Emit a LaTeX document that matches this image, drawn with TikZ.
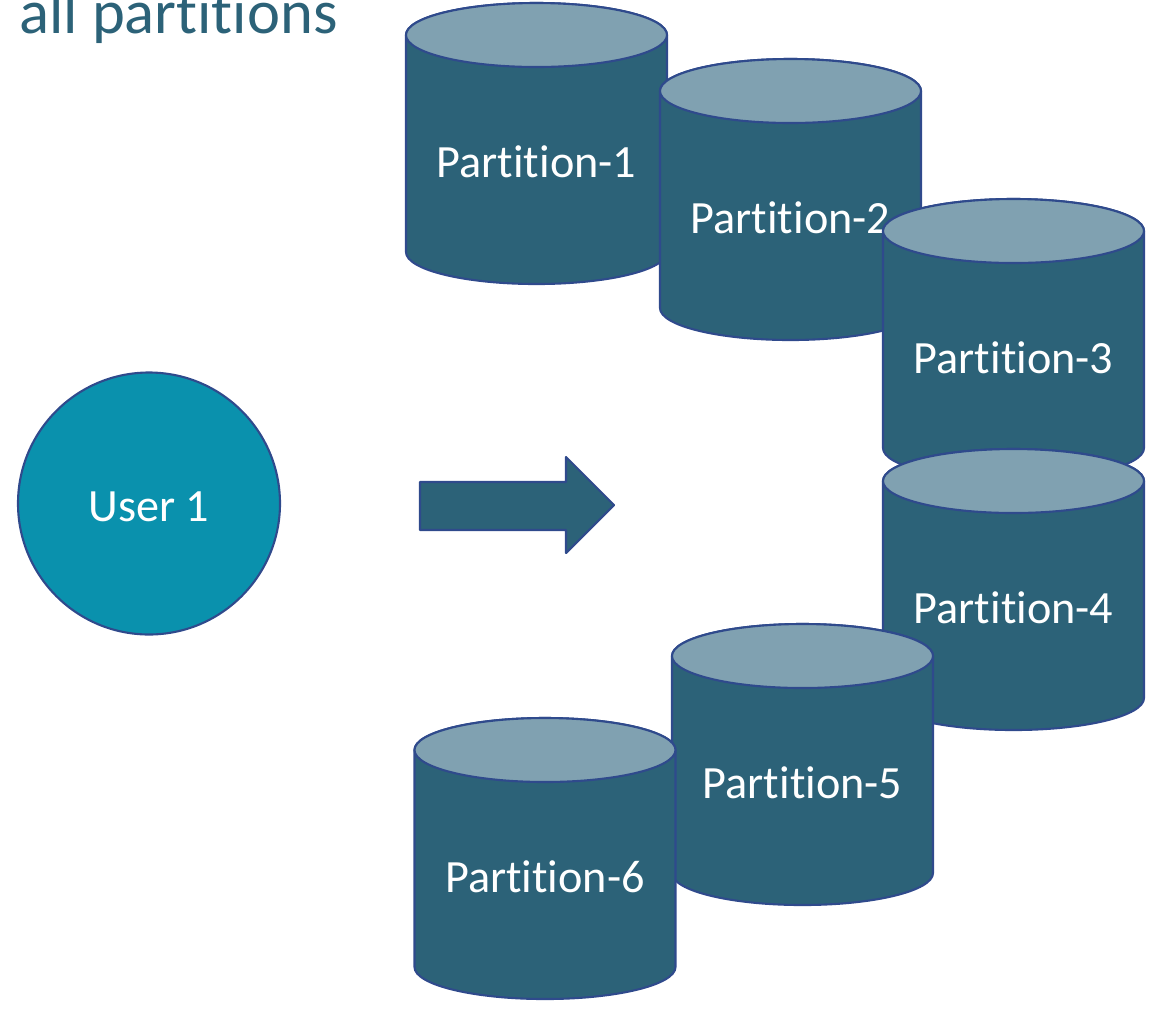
\documentclass[tikz,border=0pt]{standalone}
\usepackage{fontspec}
\setmainfont{Carlito}[Ligatures=NoCommon]
\definecolor{cylbody}{HTML}{2C6278}
\definecolor{cyltop}{HTML}{80A1B1}
\definecolor{edgeblue}{HTML}{2F4A8C}
\definecolor{userfill}{HTML}{0A91AD}
\tikzset{
  body/.style={fill=cylbody,draw=edgeblue,line width=1.2pt,line join=round},
  lid/.style={fill=cyltop,draw=edgeblue,line width=1.2pt},
  partlabel/.style={text=white,font=\fontsize{26.3}{31}\selectfont,anchor=base,inner sep=0pt}
}
% #1 name, #2 centre x, #3 top y (pixels from top), #4 text
\newcommand{\partcyl}[4]{%
  \draw[body] ({#2-130.5},{-#3}) -- ++(0,-217)
    arc[start angle=180,end angle=360,x radius=130.5,y radius=32]
    -- ++(0,217)
    arc[start angle=0,end angle=180,x radius=130.5,y radius=32] -- cycle;
  \draw[lid] (#2,{-#3}) ellipse [x radius=130.5,y radius=32];
  \node[partlabel] (#1) at (#2,{-#3-142}) {#4};
}
\begin{document}
\begin{tikzpicture}[x=0.02cm,y=0.02cm]
    \useasboundingbox (0,0) rectangle (1153,-1009);
    \node[anchor=base west,inner sep=0pt,text=cylbody,
      font=\fontsize{35.6}{42}\selectfont] (title) at (19,-33) {all partitions};
    \node[circle,fill=userfill,draw=edgeblue,line width=1.2pt,
      minimum size=262*0.02cm,inner sep=0pt] (user) at (149,-503.5) {};
    \node[partlabel] (userlabel) at (149,-521) {User 1};
    % arrow
    \draw[body] (420,-482) -- (566,-482) -- (566,-457) -- (614,-505)
      -- (566,-553) -- (566,-530) -- (420,-530) -- cycle;
    \partcyl{p1}{536.5}{35}{Partition-1}
    \partcyl{p2}{790.5}{91}{Partition-2}
    \partcyl{p3}{1013.5}{231}{Partition-3}
    \partcyl{p4}{1013.5}{481}{Partition-4}
    \partcyl{p5}{802.5}{656}{Partition-5}
    \partcyl{p6}{545}{750}{Partition-6}
\end{tikzpicture}
\end{document}
